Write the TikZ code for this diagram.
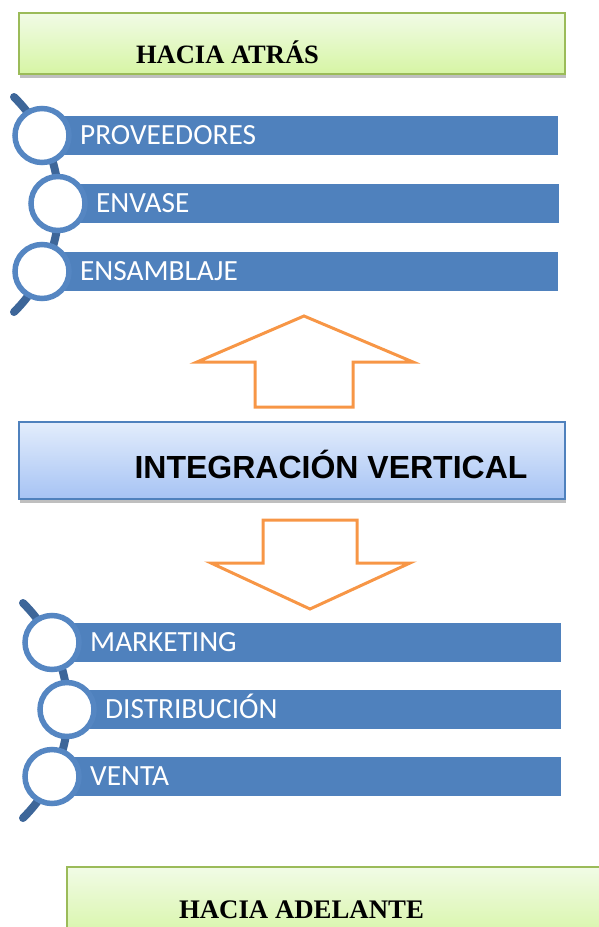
\documentclass[tikz,border=0pt]{standalone}
\usepackage{fontspec}
\usetikzlibrary{shadows}
\newfontfamily\barfont{Carlito}
\newfontfamily\titlefont{Liberation Serif}
\newfontfamily\headfont{Liberation Sans}
\definecolor{barblue}{HTML}{4F81BD}
\definecolor{ringblue}{HTML}{5586C2}
\definecolor{spineblue}{HTML}{3D6699}
\definecolor{arroworange}{HTML}{F79646}
\definecolor{greenline}{HTML}{9BBB59}
\definecolor{greentop}{HTML}{F1FBE6}
\definecolor{greenbot}{HTML}{D6F5A4}
\definecolor{bluetop}{HTML}{E3EDFC}
\definecolor{bluebot}{HTML}{A6C3F4}
\begin{document}
\begin{tikzpicture}[x=1pt,y=-1pt,
 greenbox/.style={draw=greenline,line width=1.5pt,top color=greentop,bottom color=greenbot,inner sep=0pt,
  drop shadow={shadow xshift=1pt,shadow yshift=-4pt,opacity=0.25,fill=black}},
 bluebox/.style={draw=barblue,line width=1.5pt,top color=bluetop,bottom color=bluebot,inner sep=0pt,
  minimum width=546pt,minimum height=77pt,
  drop shadow={shadow xshift=1pt,shadow yshift=-4pt,opacity=0.25,fill=black}},
 bar/.style={fill=barblue,text=white,font=\barfont\fontsize{29.3}{29}\selectfont,anchor=west,
  inner xsep=38pt,inner ysep=0pt,minimum height=39pt,text height=18.5pt,text depth=0pt,align=left,text width=#1},
 ring/.style={circle,draw=ringblue,line width=5.5pt,fill=white,minimum size=54pt,inner sep=0pt},
 spine/.style={spineblue,line width=8pt,line cap=round},
 bigarrow/.style={draw=arroworange,line width=3pt,line join=miter},
 titletext/.style={font=\titlefont\bfseries\fontsize{26.5}{27}\selectfont,anchor=base},
]
\useasboundingbox (0,0) rectangle (599,927);

% hacia atras
\node[greenbox,minimum width=546pt,minimum height=61pt] (atras) at (292,43.5) {};
\node[titletext] (atrastxt) at (227.5,63) {HACIA ATRÁS};

\draw[spine] (14,97) arc[start angle=-45.4,end angle=45.4,radius=151];
\node[bar=440pt] (prov) at (42,135.5) {PROVEEDORES};
\node[ring] (cprov) at (42,135.5) {};
\node[bar=425pt] (env) at (58,203.5) {ENVASE};
\node[ring] (cenv) at (58,203.5) {};
\node[bar=440pt] (ens) at (42,271.5) {ENSAMBLAJE};
\node[ring] (cens) at (42,271.5) {};

\draw[bigarrow] (304,316)--(413,362)--(353,362)--(353,407)--(255,407)--(255,362)--(197,362)--cycle;

% centro
\node[bluebox] (integ) at (292,460.5) {};
\node[font=\headfont\bfseries\fontsize{32}{32}\selectfont,anchor=base] (integtxt) at (331,478) {INTEGRACIÓN VERTICAL};

\draw[bigarrow] (263,520)--(357,520)--(357,563)--(410,563)--(310,609)--(211,563)--(263,563)--cycle;

% hacia adelante
\draw[spine] (23,603) arc[start angle=-45.4,end angle=45.4,radius=151];
\node[bar=433pt] (mkt) at (52,642.5) {MARKETING};
\node[ring] (cmkt) at (52,642.5) {};
\node[bar=418pt] (dist) at (67,709.5) {DISTRIBUCIÓN};
\node[ring] (cdist) at (67,709.5) {};
\node[bar=433pt] (vta) at (52,776.5) {VENTA};
\node[ring] (cvta) at (52,776.5) {};

\node[greenbox,minimum width=553pt,minimum height=75pt] (adel) at (343.5,904.5) {};
\node[titletext,font=\titlefont\bfseries\fontsize{26.8}{27}\selectfont] (adeltxt) at (301.5,918) {HACIA ADELANTE};
\end{tikzpicture}
\end{document}
